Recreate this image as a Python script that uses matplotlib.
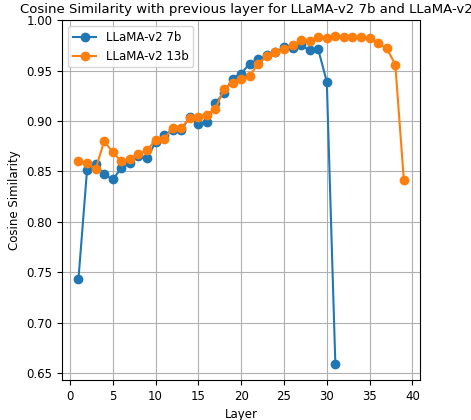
import matplotlib
matplotlib.use("Agg")
import matplotlib.pyplot as plt

layers_7b = list(range(1, 32))
sim_7b = [0.743, 0.851, 0.857, 0.847, 0.842, 0.853, 0.858, 0.865, 0.863, 0.879,
          0.886, 0.891, 0.891, 0.904, 0.897, 0.899, 0.918, 0.928, 0.942, 0.947,
          0.957, 0.961, 0.965, 0.968, 0.973, 0.972, 0.975, 0.970, 0.971, 0.939, 0.659]
layers_13b = list(range(1, 40))
sim_13b = [0.860, 0.858, 0.852, 0.880, 0.869, 0.860, 0.862, 0.867, 0.871, 0.881,
           0.882, 0.893, 0.893, 0.903, 0.904, 0.906, 0.912, 0.932, 0.938, 0.942,
           0.945, 0.957, 0.964, 0.968, 0.971, 0.975, 0.980, 0.979, 0.983, 0.982,
           0.984, 0.983, 0.983, 0.983, 0.982, 0.977, 0.972, 0.956, 0.841]

fig = plt.figure(figsize=(4.71, 4.2), dpi=100)
ax = fig.add_axes([0.132, 0.095, 0.76, 0.857])
ax.plot(layers_7b, sim_7b, marker="o", label="LLaMA-v2 7b")
ax.plot(layers_13b, sim_13b, marker="o", label="LLaMA-v2 13b")
ax.set_ylim(0.643, 1.0)
ax.set_xticks(range(0, 41, 5))
ax.grid(True)
ax.tick_params(labelsize=8.5)
ax.set_xlabel("Layer", fontsize=8.5)
ax.set_ylabel("Cosine Similarity", fontsize=8.5)
ax.set_title("Cosine Similarity with previous layer for LLaMA-v2 7b and LLaMA-v2 13b",
             fontsize=9.5, loc="left", x=-0.117, pad=5)
ax.legend(loc="upper left", fontsize=8.5)
fig.savefig("out.png")
